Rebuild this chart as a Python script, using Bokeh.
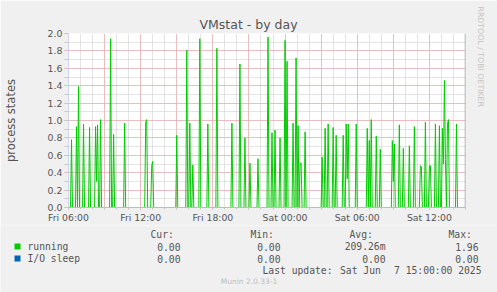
from bokeh.plotting import figure
from bokeh.layouts import column
from bokeh.models import (Range1d, FixedTicker, Label, Span, Title,
                          ColumnDataSource, NumeralTickFormatter)
from bokeh.embed import file_html
from bokeh.resources import INLINE

# ---------------- data ----------------
step_minutes = 5
n_samples = 397                      # Fri 06:00 .. Sat 15:00 at 5-minute steps
# minutes after Fri 06:00 where "running" was non-zero, and the value there
spike_minutes = [15, 40, 50, 75, 105, 135, 140, 145, 160, 210, 225, 280, 385, 390,
                 415, 420, 540, 590, 605, 620, 655, 695, 740, 815, 855, 880, 905,
                 945, 995, 1015, 1030, 1055, 1080, 1090, 1120, 1135, 1145, 1155,
                 1160, 1180, 1265, 1280, 1295, 1320, 1335, 1370, 1385, 1390, 1395,
                 1435, 1490, 1500, 1510, 1535, 1555, 1615, 1620, 1625, 1650, 1670,
                 1700, 1725, 1755, 1760, 1780, 1800, 1805, 1830, 1850, 1865, 1870,
                 1875, 1880, 1890, 1895, 1935]
spike_values = [0.78, 0.93, 1.39, 0.96, 0.92, 0.93, 0.30, 0.95, 1.01, 1.94, 0.84,
                0.97, 0.98, 1.01, 0.48, 0.53, 0.83, 1.81, 0.97, 0.49, 1.94, 0.96,
                1.83, 0.97, 1.65, 0.80, 0.51, 0.56, 1.96, 0.86, 0.89, 0.80, 1.92,
                1.68, 0.97, 1.72, 0.94, 0.51, 0.51, 0.87, 0.58, 0.91, 0.96, 0.92,
                0.83, 0.83, 0.96, 0.33, 0.96, 0.96, 0.91, 0.77, 1.01, 0.82, 0.67,
                0.77, 0.30, 0.73, 0.95, 0.68, 0.71, 0.93, 0.48, 0.47, 0.98, 0.48,
                0.48, 0.96, 0.94, 0.91, 0.50, 1.46, 0.55, 0.96, 1.01, 0.96]

tick_hours = [0, 6, 12, 18, 24, 30]
tick_labels = ["Fri 06:00", "Fri 12:00", "Fri 18:00", "Sat 00:00", "Sat 06:00", "Sat 12:00"]

series_names = ["running", "I/O sleep"]
series_colors = ["#00cc00", "#0066b3"]
stat_headers = ["Cur:", "Min:", "Avg:", "Max:"]
stats_running = ["0.00", "0.00", "209.26m", "1.96"]
stats_iosleep = ["0.00", "0.00", "0.00", "0.00"]

# build the sampled series
running = [0.0] * n_samples
for m, v in zip(spike_minutes, spike_values):
    running[m // step_minutes] = v
iosleep = [0.0] * n_samples
hours = [i * step_minutes / 60 for i in range(n_samples)]

# ---------------- main chart ----------------
W = 497
H1 = 225                      # chart part
H2 = 292 - H1                 # legend part
L, R, T, B = 67, 465, 33, 209
XMAX = 33.0
YMAX = 2.0
BG = "#f0f0f0"
RED = "#f29a9a"
GRAY = "#c8c8c8"
TXT = "#555555"

p = figure(width=W, height=H1, output_backend="svg", toolbar_location=None,
           title=None, x_range=Range1d(0, XMAX), y_range=Range1d(0, YMAX),
           min_border_left=L, min_border_right=W - R, min_border_top=T,
           min_border_bottom=H1 - B, background_fill_color="white",
           border_fill_color=BG, outline_line_color=None, frame_align=False)

p.add_layout(Title(text="VMstat - by day", align="left", offset=131,
                   text_font="DejaVu Sans", text_font_size="12.5px",
                   text_font_style="normal", text_color=TXT, standoff=4), "above")
p.add_layout(Title(text="RRDTOOL / TOBI OETIKER", align="left", offset=-27,
                   text_font="DejaVu Sans", text_font_size="7.8px",
                   text_font_style="normal", text_color="#c4c4c4", standoff=20), "right")

xa = p.xaxis[0]
xa.ticker = FixedTicker(ticks=list(range(0, 34, 3)), minor_ticks=list(range(0, 34)))
ov = {h: "" for h in range(0, 34, 3)}
for h, lab in zip(tick_hours, tick_labels):
    ov[h] = lab
xa.major_label_overrides = ov
xa.major_tick_line_color = RED
xa.major_tick_out = 2
xa.major_tick_in = 0
xa.minor_tick_line_color = GRAY
xa.minor_tick_out = 2
xa.minor_tick_in = 0
xa.axis_line_color = "#a8bde8"
xa.major_label_text_font = "DejaVu Sans"
xa.major_label_text_font_size = "9.3px"
xa.major_label_text_color = TXT
xa.major_label_standoff = 2

ya = p.yaxis[0]
ya.ticker = FixedTicker(ticks=[i * 0.2 for i in range(11)],
                        minor_ticks=[i * 0.1 for i in range(21)])
ya.formatter = NumeralTickFormatter(format="0.0")
ya.major_tick_line_color = RED
ya.major_tick_out = 4
ya.major_tick_in = 0
ya.minor_tick_line_color = GRAY
ya.minor_tick_out = 4
ya.minor_tick_in = 0
ya.axis_line_color = "#d0d4f2"
ya.major_label_text_font = "DejaVu Sans"
ya.major_label_text_font_size = "9.4px"
ya.major_label_text_color = TXT
ya.major_label_standoff = 2
ya.axis_label = "process states"
ya.axis_label_text_font = "DejaVu Sans"
ya.axis_label_text_font_size = "11.5px"
ya.axis_label_text_font_style = "normal"
ya.axis_label_text_color = TXT
ya.axis_label_standoff = 27

for g in (p.xgrid[0], p.ygrid[0]):
    g.grid_line_color = RED
    g.grid_line_dash = "1 1"
    g.grid_line_alpha = 1.0
    g.minor_grid_line_color = GRAY
    g.minor_grid_line_dash = "1 1"

src = ColumnDataSource(dict(h=hours, running=running, iosleep=iosleep))
p.line("h", "running", source=src, line_color=series_colors[0], line_width=1)
p.line("h", "iosleep", source=src, line_color=series_colors[1], line_width=1)

p.add_layout(Span(location=XMAX, dimension="height", line_color="#999999", line_width=1.5))

# ---------------- legend part (pixel coordinates) ----------------
q = figure(width=W, height=H2, output_backend="svg", toolbar_location=None,
           title=None, x_range=Range1d(0, W), y_range=Range1d(292, H1),
           x_axis_type=None, y_axis_type=None, min_border=0, frame_align=False,
           background_fill_color=BG, border_fill_color=BG, outline_line_color=None)
q.grid.visible = False

def lab(text, px, py, size, font="DejaVu Sans Mono", color=TXT, align="left"):
    q.add_layout(Label(x=px, y=py, text=text, text_font=font,
                       text_font_size=size, text_color=color, text_align=align,
                       text_baseline="middle"))

MS = "9.7px"
head_x = [150, 250, 349, 448]
val_x = [180, 280, 385, 478]
for t, x in zip(stat_headers, head_x):
    lab(t, x, 234, MS)
rows_y = [246, 258]
for name, col, vals, yy in zip(series_names, series_colors, [stats_running, stats_iosleep], rows_y):
    q.quad(left=14, right=20, top=yy - 3, bottom=yy + 3, fill_color=col, line_color=None)
    lab(name, 27, yy, MS)
    for v, x in zip(vals, val_x):
        lab(v, x, yy, MS, align="right")

lab("Last update:", 262, 270, MS)
lab("Sat Jun", 339.5, 270, MS)
lab("7 15:00:00 2025", 393.5, 270, MS)
lab("Munin 2.0.33-1", 248.5, 281, "7.5px", font="DejaVu Sans", color="#bdbdbd", align="center")

layout = column(p, q, spacing=0)
open("out.html", "w").write(file_html(layout, INLINE))
